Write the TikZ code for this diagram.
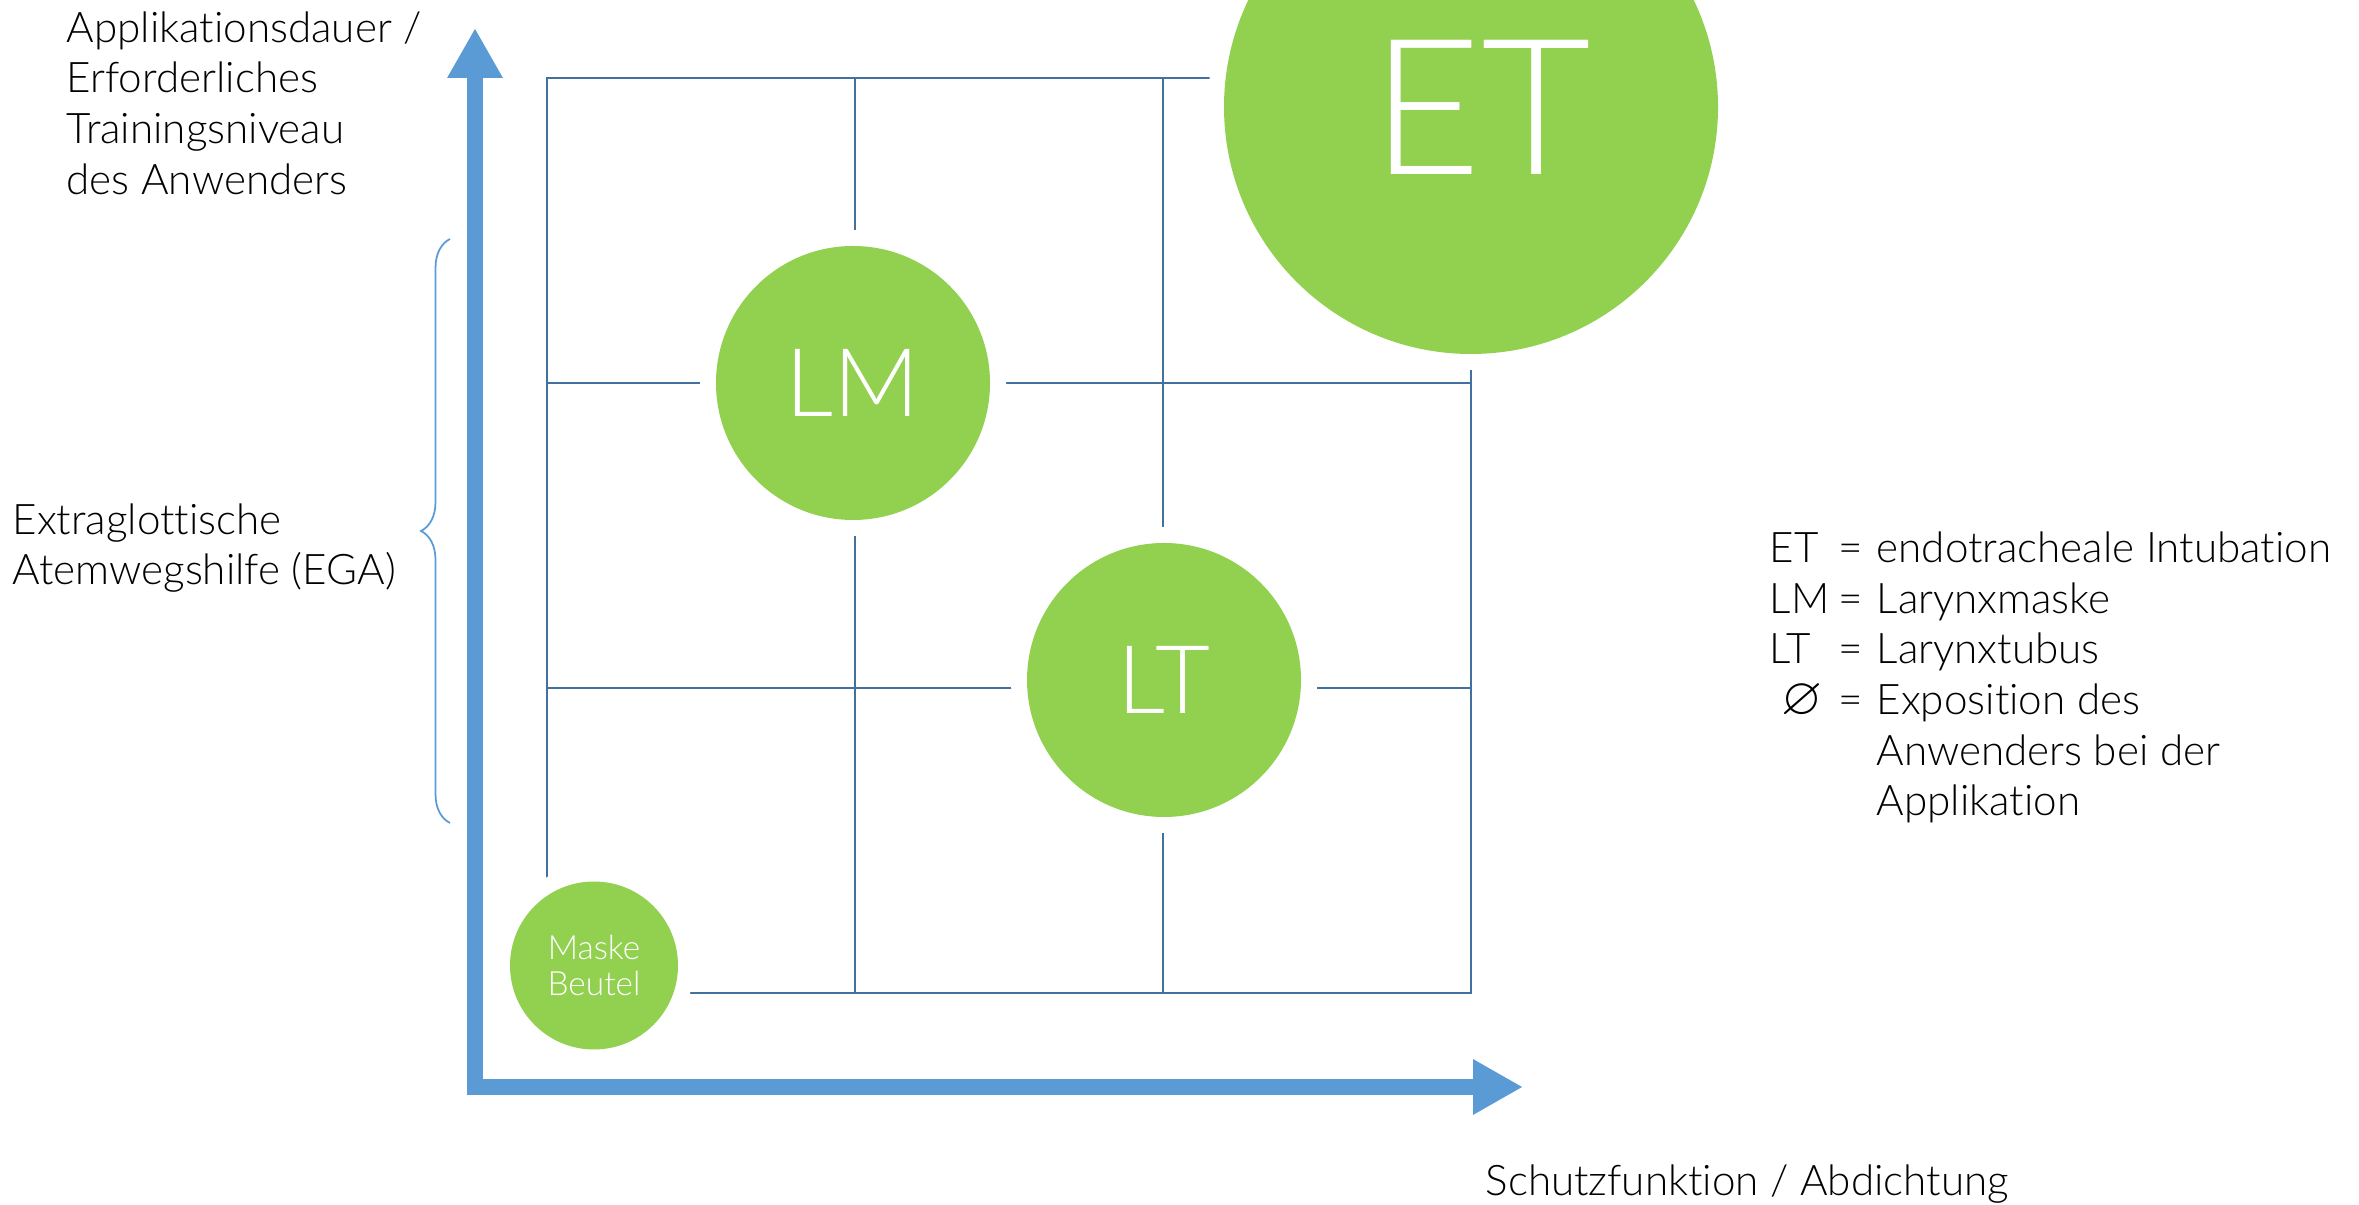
\documentclass[tikz,border=0pt]{standalone}
\usepackage{fontspec}
\IfFontExistsTF{Lato Light}
    {\setmainfont{Lato Light}[Ligatures={NoCommon,NoContextual}]}
    {\setmainfont{Lato}[Ligatures={NoCommon,NoContextual}]}
\usepackage{amssymb}
\usetikzlibrary{arrows.meta, decorations.pathreplacing}
\definecolor{AxisBlue}{HTML}{5B9BD5}
\definecolor{GridBlue}{HTML}{41719C}
\definecolor{DiscGreen}{HTML}{92D050}
\newcommand{\lblfont}{\fontsize{12}{14.4}\selectfont}

\begin{document}
\begin{tikzpicture}[
    axis/.style={AxisBlue, line width=0.16cm,
        {Triangle[length=0.5cm, width=0.52cm]}-{Triangle[length=0.5cm, width=0.52cm]}},
    gridline/.style={GridBlue, line width=0.75pt},
    disc/.style={circle, inner sep=0pt, fill=DiscGreen, text=white, align=center,
        preaction={draw=white, line width=0.32cm}},
    lbl/.style={font=\lblfont, text=black, align=left, inner sep=0pt}
]
\useasboundingbox (0,0) rectangle (23.59,12.04);

% ===================================================================
% AXES
% ===================================================================
\coordinate (ytop) at (4.75,11.76);
\coordinate (origin) at (4.75,1.17);
\coordinate (xend) at (15.23,1.17);
\draw[axis] (ytop) -- (origin) -- (xend);

% ===================================================================
% 3x3 GRID
% ===================================================================
\draw[gridline] (5.47,2.11) rectangle (14.71,11.26);
\foreach \x in {8.55,11.63} {
    \draw[gridline] (\x,2.11) -- (\x,11.26);
}
\foreach \y in {5.16,8.21} {
    \draw[gridline] (5.47,\y) -- (14.71,\y);
}

% ===================================================================
% AIRWAY DEVICES (white halo cuts the grid lines)
% ===================================================================
\node[disc, minimum size=4.94cm, font=\fontsize{54}{60}\selectfont] (et) at (14.71,10.97) {\hspace*{0.2cm}ET};
\node[disc, minimum size=2.74cm, font=\fontsize{27}{32}\selectfont] (lm) at (8.53,8.21) {LM};
\node[disc, minimum size=2.74cm, font=\fontsize{27}{32}\selectfont] (lt) at (11.64,5.24) {LT};
\node[disc, minimum size=1.68cm, font=\fontsize{9.5}{10.2}\selectfont] (mb) at (5.94,2.385) {Maske\\Beutel};

% ===================================================================
% AXIS LABELS
% ===================================================================
\node[lbl, anchor=west] (ylabel) at (0.66,11.01)
    {Applikationsdauer /\\Erforderliches\\Trainingsniveau\\des Anwenders};
\node[lbl, anchor=west] (xlabel) at (14.85,0.20) {Schutzfunktion / Abdichtung};

% EGA range
\draw[AxisBlue, line width=0.5pt, decorate, decoration={brace, amplitude=0.29cm}]
    (4.50,3.81) -- (4.50,9.65);
\node[lbl, anchor=west] (ega) at (0.12,6.56) {Extraglottische\\Atemwegshilfe (EGA)};

% ===================================================================
% LEGEND
% ===================================================================
\node[lbl, anchor=west] (legend) at (17.69,5.25) {%
    \begin{tabular}{@{}p{0.69cm}@{}p{0.38cm}@{}l@{}}
        ET & = & endotracheale Intubation \\
        LM & = & Larynxmaske \\
        LT & = & Larynxtubus \\
        \hspace{0.12cm}\smash{\scalebox{1.25}{$\varnothing$}} & = & Exposition des \\
           &   & Anwenders bei der \\
           &   & Applikation \\
    \end{tabular}};

\end{tikzpicture}
\end{document}
